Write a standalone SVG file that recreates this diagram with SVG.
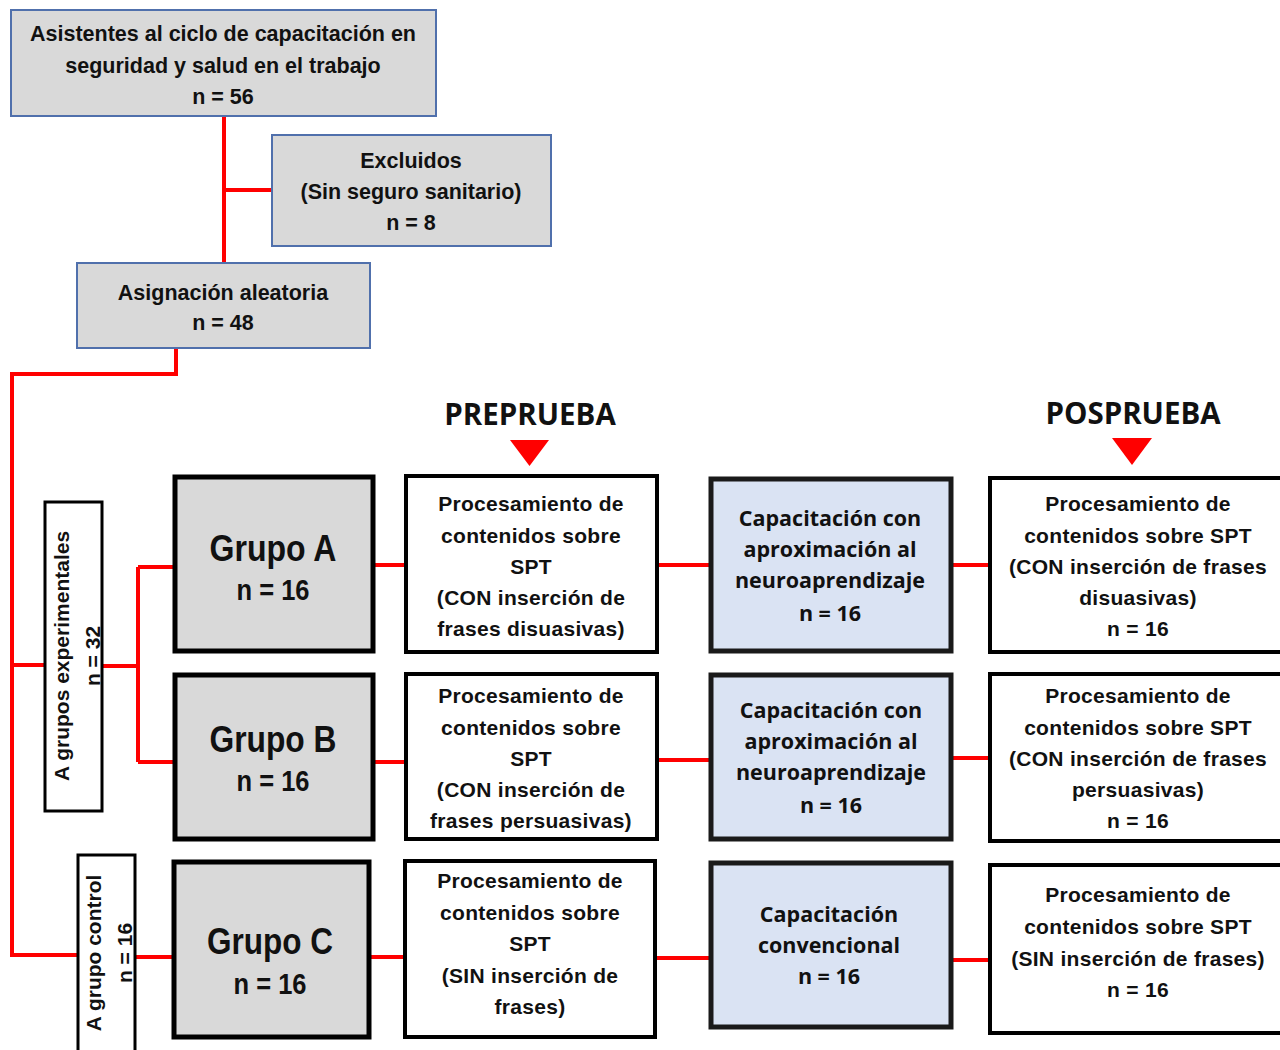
<svg xmlns="http://www.w3.org/2000/svg" width="1280" height="1050" viewBox="0 0 1280 1050">
<style>
.bg{fill:#ffffff}
.grey{fill:#d9d9d9;stroke:#5070ac;stroke-width:2}
.grp{fill:#d9d9d9;stroke:#000;stroke-width:5}
.wb{fill:#ffffff;stroke:#000;stroke-width:4}
.lab{fill:#ffffff;stroke:#000;stroke-width:3}
.blue{fill:#dae3f3;stroke:#1a1a1a;stroke-width:5}
.t{font-family:"Liberation Sans",Arial,sans-serif;font-weight:bold;fill:#111;text-anchor:middle}
.top{font-size:21.5px}
.pro{font-size:21px;letter-spacing:0.3px}
.cal{font-family:"Open Sans",Lato,sans-serif;font-weight:bold;fill:#111;text-anchor:middle;font-size:21.5px}
.hd{font-family:"Open Sans",Lato,sans-serif;font-weight:bold;fill:#111;text-anchor:middle;font-size:29.5px}
.big{font-size:37px}
.bn{font-size:30px}
.rot{font-size:21px}
.con{fill:none;stroke:#ff0000;stroke-width:4}
</style>
<rect class="bg" x="0" y="0" width="1280" height="1050"/>

<g id="connectors">
<path class="con" d="M224,116 V263 M224,190 H272"/>
<path class="con" d="M176,348 V374 H12 V955 H77 M12,665 H44"/>
<path class="con" d="M102,666 H138 M138,567 V762 M138,567 H175 M138,762 H175"/>
<path class="con" d="M135,957 H173"/>
<path class="con" d="M373,565 H406 M657,565 H710 M951,565 H989"/>
<path class="con" d="M373,762 H406 M657,760 H710 M951,758 H989"/>
<path class="con" d="M369,957 H405 M655,958 H710 M951,960 H989"/>
</g>

<g id="asistentes">
<rect class="grey" x="11" y="10" width="425" height="106"/>
<text class="t top" x="223" y="41">Asistentes  al ciclo de capacitación  en</text>
<text class="t top" x="223" y="73">seguridad y salud en el trabajo</text>
<text class="t top" x="223" y="104">n = 56</text>
</g>

<g id="excluidos">
<rect class="grey" x="272" y="135" width="279" height="111"/>
<text class="t top" x="411" y="168">Excluidos</text>
<text class="t top" x="411" y="199">(Sin seguro sanitario)</text>
<text class="t top" x="411" y="230">n = 8</text>
</g>

<g id="asignacion">
<rect class="grey" x="77" y="263" width="293" height="85"/>
<text class="t top" x="223" y="300">Asignación aleatoria</text>
<text class="t top" x="223" y="330">n = 48</text>
</g>

<g id="preprueba">
<text class="hd" x="530" y="425">PREPRUEBA</text>
<polygon points="510,440 549,440 529.5,466" fill="#ff0000"/>
</g>
<g id="posprueba">
<text class="hd" x="1133" y="424">POSPRUEBA</text>
<polygon points="1112,438 1152,438 1132,465" fill="#ff0000"/>
</g>

<g id="exp-label">
<rect class="lab" x="45" y="502" width="57" height="309"/>
<text class="t rot" transform="translate(69,656) rotate(-90)">A grupos experimentales</text>
<text class="t rot" transform="translate(100,656) rotate(-90)">n = 32</text>
</g>

<g id="ctrl-label">
<rect class="lab" x="78" y="855" width="57" height="200"/>
<text class="t rot" transform="translate(101,953) rotate(-90)">A grupo control</text>
<text class="t rot" transform="translate(132,953) rotate(-90)">n = 16</text>
</g>

<g id="grupoA">
<rect class="grp" x="175" y="477" width="198" height="174"/>
<text class="t big" x="273" y="561" textLength="127" lengthAdjust="spacingAndGlyphs">Grupo A</text>
<text class="t bn" x="273" y="600" textLength="73" lengthAdjust="spacingAndGlyphs">n = 16</text>
</g>
<g id="grupoB">
<rect class="grp" x="175" y="675" width="198" height="164"/>
<text class="t big" x="273" y="752" textLength="127" lengthAdjust="spacingAndGlyphs">Grupo B</text>
<text class="t bn" x="273" y="791" textLength="73" lengthAdjust="spacingAndGlyphs">n = 16</text>
</g>
<g id="grupoC">
<rect class="grp" x="174" y="862" width="195" height="175"/>
<text class="t big" x="270" y="954" textLength="126" lengthAdjust="spacingAndGlyphs">Grupo C</text>
<text class="t bn" x="270" y="994" textLength="73" lengthAdjust="spacingAndGlyphs">n = 16</text>
</g>

<g id="preA">
<rect class="wb" x="406" y="476" width="251" height="176"/>
<text class="t pro" x="531" y="511">Procesamiento de</text>
<text class="t pro" x="531" y="543">contenidos sobre</text>
<text class="t pro" x="531" y="574">SPT</text>
<text class="t pro" x="531" y="605">(CON inserción de</text>
<text class="t pro" x="531" y="636">frases disuasivas)</text>
</g>
<g id="preB">
<rect class="wb" x="406" y="674" width="251" height="165"/>
<text class="t pro" x="531" y="703">Procesamiento de</text>
<text class="t pro" x="531" y="735">contenidos sobre</text>
<text class="t pro" x="531" y="766">SPT</text>
<text class="t pro" x="531" y="797">(CON inserción de</text>
<text class="t pro" x="531" y="828">frases persuasivas)</text>
</g>
<g id="preC">
<rect class="wb" x="405" y="861" width="250" height="176"/>
<text class="t pro" x="530" y="888">Procesamiento de</text>
<text class="t pro" x="530" y="920">contenidos sobre</text>
<text class="t pro" x="530" y="951">SPT</text>
<text class="t pro" x="530" y="983">(SIN inserción de</text>
<text class="t pro" x="530" y="1014">frases)</text>
</g>

<g id="capA">
<rect class="blue" x="711" y="479" width="240" height="172"/>
<text class="cal" x="830" y="526">Capacitación con</text>
<text class="cal" x="830" y="557">aproximación al</text>
<text class="cal" x="830" y="588">neuroaprendizaje</text>
<text class="cal" x="830" y="621">n = 16</text>
</g>
<g id="capB">
<rect class="blue" x="711" y="675" width="240" height="164"/>
<text class="cal" x="831" y="718">Capacitación con</text>
<text class="cal" x="831" y="749">aproximación al</text>
<text class="cal" x="831" y="780">neuroaprendizaje</text>
<text class="cal" x="831" y="813">n = 16</text>
</g>
<g id="capC">
<rect class="blue" x="711" y="863" width="240" height="164"/>
<text class="cal" x="829" y="922">Capacitación</text>
<text class="cal" x="829" y="953">convencional</text>
<text class="cal" x="829" y="984">n = 16</text>
</g>

<g id="postA">
<rect class="wb" x="990" y="478" width="300" height="174"/>
<text class="t pro" x="1138" y="511">Procesamiento de</text>
<text class="t pro" x="1138" y="543">contenidos sobre SPT</text>
<text class="t pro" x="1138" y="574">(CON inserción de frases</text>
<text class="t pro" x="1138" y="605">disuasivas)</text>
<text class="t pro" x="1138" y="636">n = 16</text>
</g>
<g id="postB">
<rect class="wb" x="990" y="674" width="300" height="167"/>
<text class="t pro" x="1138" y="703">Procesamiento de</text>
<text class="t pro" x="1138" y="735">contenidos sobre SPT</text>
<text class="t pro" x="1138" y="766">(CON inserción de frases</text>
<text class="t pro" x="1138" y="797">persuasivas)</text>
<text class="t pro" x="1138" y="828">n = 16</text>
</g>
<g id="postC">
<rect class="wb" x="990" y="865" width="300" height="168"/>
<text class="t pro" x="1138" y="902">Procesamiento de</text>
<text class="t pro" x="1138" y="934">contenidos sobre SPT</text>
<text class="t pro" x="1138" y="966">(SIN inserción de frases)</text>
<text class="t pro" x="1138" y="997">n = 16</text>
</g>
</svg>
